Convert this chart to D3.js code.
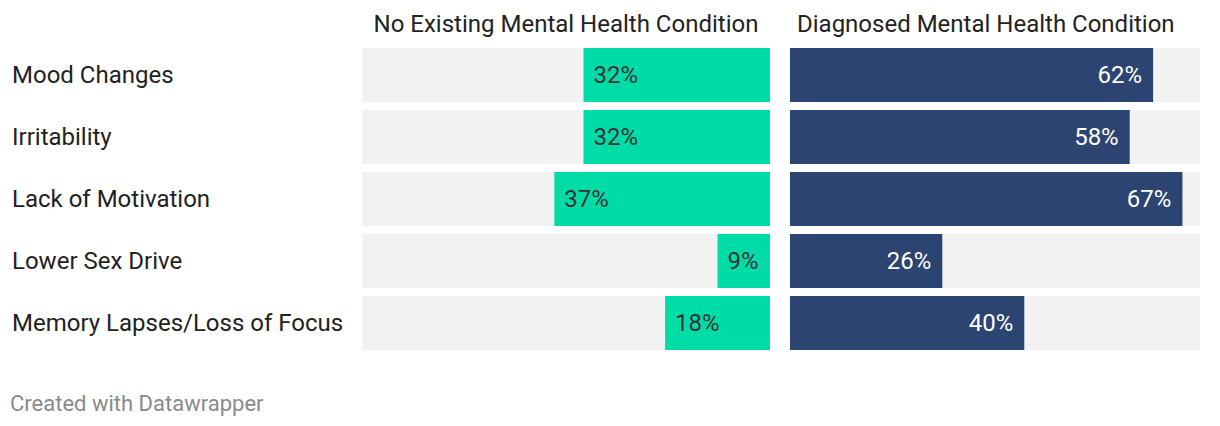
<!DOCTYPE html>
<html><head><meta charset="utf-8">
<script src="https://cdn.jsdelivr.net/npm/d3@7"></script>
<style>
html,body{margin:0;padding:0;background:#fff;}
svg{display:block;font-family:Roboto,"Noto Sans",sans-serif;}
</style></head>
<body><svg id="c" width="1220" height="426"></svg>
<script>
const categories = ["Mood Changes","Irritability","Lack of Motivation","Lower Sex Drive","Memory Lapses/Loss of Focus"];
const noConditionValues = [32,32,37,9,18];
const diagnosedValues = [62,58,67,26,40];
const panelTitles = ["No Existing Mental Health Condition","Diagnosed Mental Health Condition"];
const footerText = "Created with Datawrapper";

const svg = d3.select("#c");
const fs = 24;
const y = d3.scaleBand().domain(categories).range([48,350]).paddingInner(8/62).paddingOuter(0);
const xl = d3.scaleLinear().domain([0,70]).range([770,362]);
const xr = d3.scaleLinear().domain([0,70]).range([790,1200]);
const base = d => y(d)+y.bandwidth()/2+7.5;

// row labels
svg.append("g").selectAll("text").data(categories).join("text")
  .attr("x",12).attr("y",d=>base(d))
  .attr("font-size",fs).attr("fill","#222").text(d=>d);

// titles
svg.append("text").attr("x",(xl.range()[0]+xl.range()[1])/2).attr("y",32).attr("text-anchor","middle")
  .attr("font-size",fs).attr("fill","#222").text(panelTitles[0]);
svg.append("text").attr("x",xr.range()[0]+7).attr("y",32).attr("text-anchor","start")
  .attr("font-size",fs).attr("fill","#222").text(panelTitles[1]);

// left panel
const gl = svg.append("g");
gl.selectAll("rect.bg").data(categories).join("rect").attr("class","bg")
  .attr("x",xl(70)).attr("width",xl(0)-xl(70)).attr("y",d=>y(d)).attr("height",y.bandwidth()).attr("fill","#f2f2f2");
gl.selectAll("rect.bar").data(noConditionValues).join("rect").attr("class","bar")
  .attr("x",d=>xl(d)).attr("width",d=>xl(0)-xl(d)).attr("y",(d,i)=>y(categories[i])).attr("height",y.bandwidth()).attr("fill","#00dca8");
gl.selectAll("text").data(noConditionValues).join("text")
  .attr("x",d=>xl(d)+10).attr("y",(d,i)=>base(categories[i]))
  .attr("font-size",fs).attr("fill","#333").text(d=>d+"%");

// right panel
const gr = svg.append("g");
gr.selectAll("rect.bg").data(categories).join("rect").attr("class","bg")
  .attr("x",xr(0)).attr("width",xr(70)-xr(0)).attr("y",d=>y(d)).attr("height",y.bandwidth()).attr("fill","#f2f2f2");
gr.selectAll("rect.bar").data(diagnosedValues).join("rect").attr("class","bar")
  .attr("x",xr(0)).attr("width",d=>xr(d)-xr(0)).attr("y",(d,i)=>y(categories[i])).attr("height",y.bandwidth()).attr("fill","#2c4471");
gr.selectAll("text").data(diagnosedValues).join("text")
  .attr("x",d=>xr(d)-11).attr("y",(d,i)=>base(categories[i])).attr("text-anchor","end")
  .attr("font-size",fs).attr("fill","#fff").text(d=>d+"%");

svg.append("text").attr("x",10).attr("y",411).attr("font-size",22).attr("fill","#8a8a8a").text(footerText);
</script></body></html>
